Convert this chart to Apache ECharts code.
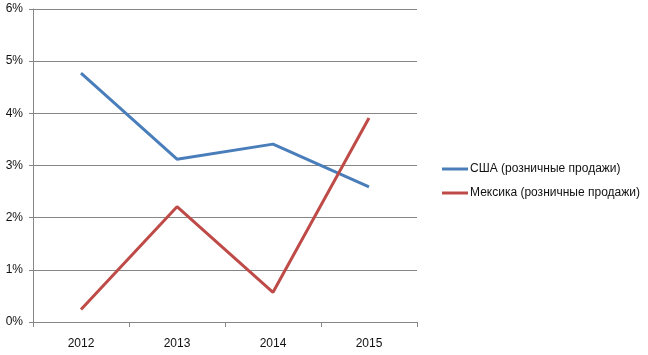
<!DOCTYPE html>
<html>
<head>
<meta charset="utf-8">
<script src="https://cdn.jsdelivr.net/npm/echarts@6/dist/echarts.min.js"></script>
<style>html,body{margin:0;padding:0;background:#fff;}#c{width:648px;height:355px;}</style>
</head>
<body>
<div id="c"></div>
<script>
var categories = ['2012', '2013', '2014', '2015'];
var usaValues = [4.77, 3.12, 3.41, 2.59];
var mexicoValues = [0.24, 2.21, 0.57, 3.91];
var seriesNames = ['США (розничные продажи)', 'Мексика (розничные продажи)'];
var yTicks = [0, 1, 2, 3, 4, 5, 6];

var font = 'Liberation Sans, Arial, sans-serif';
var chart = echarts.init(document.getElementById('c'));
chart.setOption({
  animation: false,
  backgroundColor: '#fff',
  grid: { left: 33, right: 231, top: 9, bottom: 33, containLabel: false },
  legend: {
    orient: 'vertical',
    left: 437,
    top: 158,
    itemWidth: 26,
    itemHeight: 3,
    itemGap: 12,
    icon: 'rect',
    textStyle: { fontFamily: font, fontSize: 12, color: '#111', padding: [0, 0, 0, -3] },
    data: seriesNames
  },
  xAxis: {
    type: 'category',
    data: categories,
    boundaryGap: true,
    axisLine: { lineStyle: { color: '#868686', width: 1 } },
    axisTick: { show: true, length: 5, lineStyle: { color: '#868686' } },
    axisLabel: { fontFamily: font, fontSize: 12, color: '#111', margin: 16 }
  },
  yAxis: {
    type: 'value',
    min: yTicks[0],
    max: yTicks[yTicks.length - 1],
    interval: 1,
    axisLine: { show: true, lineStyle: { color: '#868686', width: 1 } },
    axisTick: { show: true, length: 4, lineStyle: { color: '#868686' } },
    splitLine: { lineStyle: { color: '#868686', width: 1 } },
    axisLabel: { fontFamily: font, fontSize: 12, color: '#111', margin: 10, formatter: '{value}%' }
  },
  series: [
    {
      name: seriesNames[0], type: 'line', data: usaValues,
      symbol: 'none', lineStyle: { color: '#4a7ebb', width: 3 }, itemStyle: { color: '#4a7ebb' }
    },
    {
      name: seriesNames[1], type: 'line', data: mexicoValues,
      symbol: 'none', lineStyle: { color: '#be4b48', width: 3 }, itemStyle: { color: '#be4b48' }
    }
  ]
});
</script>
</body>
</html>
